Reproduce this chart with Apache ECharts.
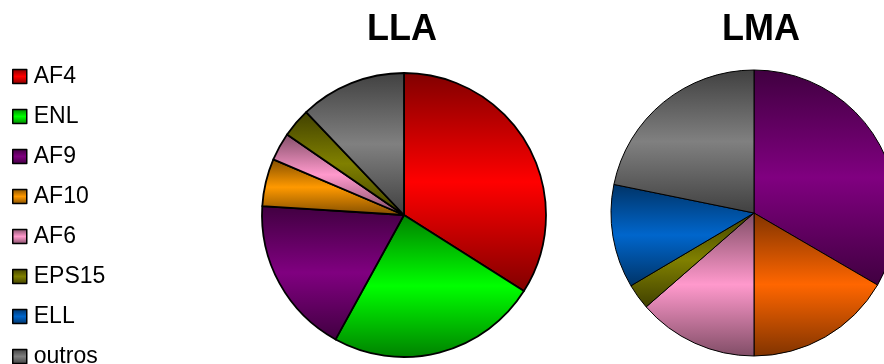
<!DOCTYPE html>
<html>
<head>
<meta charset="utf-8">
<style>
  html, body { margin: 0; padding: 0; background: #fff; }
  #chart { width: 884px; height: 364px; }
</style>
<script src="https://cdn.jsdelivr.net/npm/echarts@6/dist/echarts.min.js"></script>
</head>
<body>
<div id="chart"></div>
<script>
// Categories shown in the legend, in legend order
const categories = ['AF4', 'ENL', 'AF9', 'AF10', 'AF6', 'EPS15', 'ELL', 'outros'];
// Share (%) per category in each group
const llaValues = [34, 24, 18, 5.4, 3.2, 3.3, 0, 12.1];
const lmaValues = [0, 0, 33.4, 16.6, 13.6, 2.9, 11.7, 21.8];
// Base fill colours
const baseColors = ['#FF0000', '#00FF00', '#800080', '#FF9900', '#FF99CC', '#808000', '#0066CC', '#808080'];
// Colour overrides for the LMA pie
const lmaColorOverrides = { 'AF10': '#FF6600' };

function darken(hex, f) {
  const n = parseInt(hex.slice(1), 16);
  const r = Math.round(((n >> 16) & 255) * f);
  const g = Math.round(((n >> 8) & 255) * f);
  const b = Math.round((n & 255) * f);
  return 'rgb(' + r + ',' + g + ',' + b + ')';
}

// Vertical band gradient: dark edges, full colour in the middle
function shade(hex) {
  return new echarts.graphic.LinearGradient(0, 0, 0, 1, [
    { offset: 0, color: darken(hex, 0.5) },
    { offset: 0.5, color: hex },
    { offset: 1, color: darken(hex, 0.5) }
  ]);
}

function buildData(values, overrides) {
  const out = [];
  categories.forEach(function (name, i) {
    if (!values[i]) return;
    const c = (overrides && overrides[name]) || baseColors[i];
    out.push({ name: name, value: values[i], itemStyle: { color: shade(c) } });
  });
  return out;
}

const chart = echarts.init(document.getElementById('chart'), null, { renderer: 'canvas' });

const titleFont = { fontFamily: 'Liberation Sans, Arial', fontSize: 36, fontWeight: 'bold', color: '#000' };

chart.setOption({
  animation: false,
  backgroundColor: '#ffffff',
  title: [
    { text: 'LLA', left: 402, top: 12, textAlign: 'center', padding: 0, textStyle: titleFont },
    { text: 'LMA', left: 761, top: 12, textAlign: 'center', padding: 0, textStyle: titleFont }
  ],
  legend: {
    orient: 'vertical',
    left: 12,
    top: 65,
    height: 320,
    padding: 0,
    data: categories,
    icon: 'rect',
    itemWidth: 14,
    itemHeight: 14,
    itemGap: 17,
    selectedMode: false,
    itemStyle: { borderColor: '#000', borderWidth: 1.5 },
    textStyle: { fontFamily: 'Liberation Sans, Arial', fontSize: 23, lineHeight: 23, color: '#000', padding: [0, 0, 0, 2] }
  },
  series: [
    {
      name: 'LLA',
      type: 'pie',
      center: [404, 215],
      radius: 142,
      startAngle: 90,
      clockwise: true,
      label: { show: false },
      labelLine: { show: false },
      emphasis: { disabled: true },
      itemStyle: { borderColor: '#000', borderWidth: 1.8 },
      data: buildData(llaValues)
    },
    {
      name: 'LMA',
      type: 'pie',
      center: [754, 213],
      radius: 143,
      startAngle: 90,
      clockwise: true,
      label: { show: false },
      labelLine: { show: false },
      emphasis: { disabled: true },
      itemStyle: { borderColor: '#000', borderWidth: 1 },
      data: buildData(lmaValues, lmaColorOverrides)
    }
  ]
});
</script>
</body>
</html>
